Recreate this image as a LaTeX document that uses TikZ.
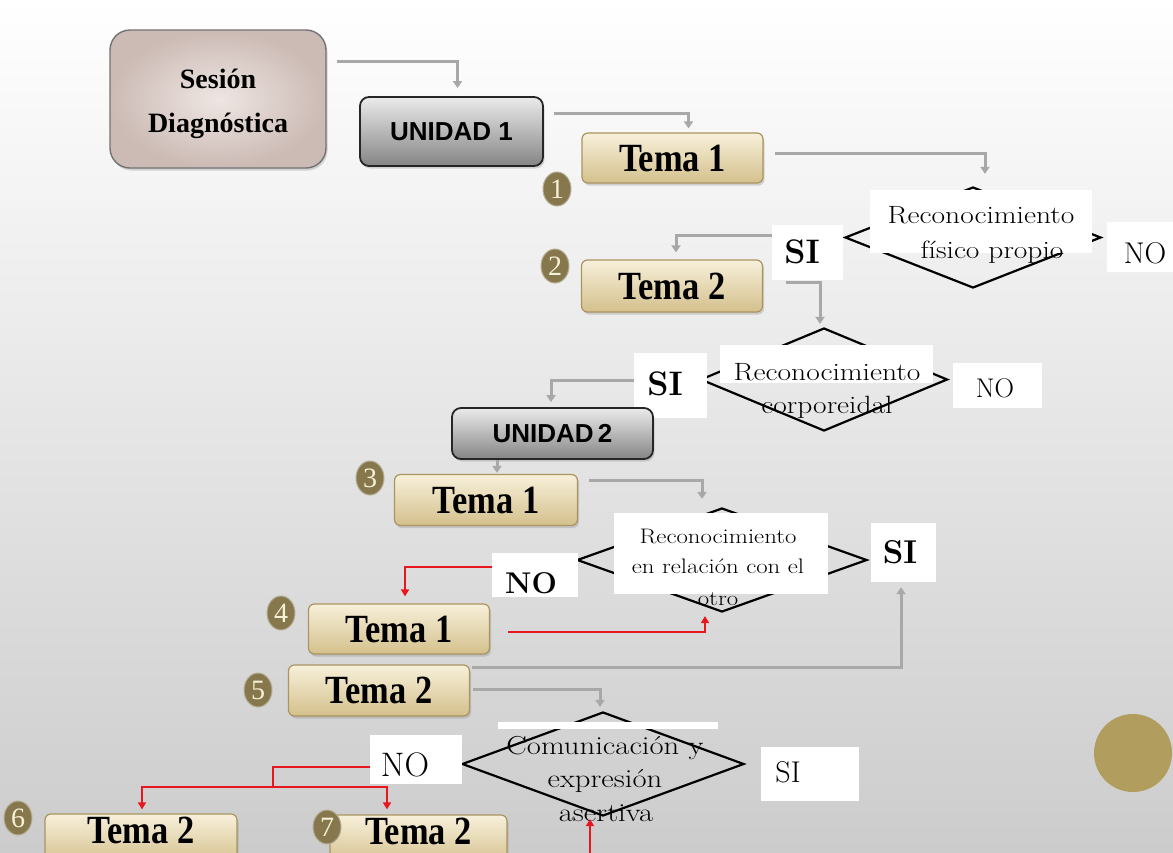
\documentclass[tikz,border=0pt]{standalone}
\usepackage{fontspec}
\newfontfamily\temafont[FakeStretch=0.86]{Liberation Serif}
\newfontfamily\sesfont{Liberation Serif}
\newfontfamily\unifont{Liberation Sans}
\usepackage{graphicx}
\usepackage{tikz}
\usetikzlibrary{calc, positioning, arrows.meta, shapes.geometric, shadows}
\usepackage{xcolor}
\definecolor{arrGray}{RGB}{168, 168, 168}
\definecolor{arrRed}{RGB}{232, 22, 30}
\definecolor{temaLight}{RGB}{247, 240, 218}
\definecolor{temaDark}{RGB}{212, 192, 140}
\definecolor{temaEdge}{RGB}{170, 148, 96}
\definecolor{sesLight}{RGB}{238, 230, 227}
\definecolor{sesDark}{RGB}{204, 186, 180}
\definecolor{badgeFill}{RGB}{134, 120, 76}
\definecolor{badgeTxt}{RGB}{246, 240, 214}
\definecolor{goldDot}{RGB}{177, 157, 94}
\newcommand{\setfs}[1]{\fontsize{#1}{#1}\selectfont}
\newcommand{\wide}[1]{\scalebox{1.18}[1]{#1}}

\begin{document}
\begin{tikzpicture}[x=1pt, y=-1pt,
  sesbox/.style={rounded corners=20pt, draw=black!55, line width=1.4pt,
    inner color=sesLight, outer color=sesDark,
    drop shadow={opacity=0.3, shadow xshift=1.5pt, shadow yshift=-2.5pt}},
  unidad/.style={rounded corners=9pt, draw=black!85, line width=1.8pt,
    top color=black!8, bottom color=black!48, inner sep=0pt,
    font=\unifont\bfseries\setfs{26},
    drop shadow={opacity=0.3, shadow xshift=1.5pt, shadow yshift=-2.5pt}},
  tema/.style={rounded corners=6pt, draw=temaEdge, line width=1.2pt,
    top color=temaLight, bottom color=temaDark, inner sep=0pt,
    minimum width=181pt, minimum height=50pt,
    font=\temafont\bfseries\setfs{40},
    drop shadow={opacity=0.3, shadow xshift=1.5pt, shadow yshift=-2.5pt}},
  badge/.style={ellipse, minimum width=28pt, minimum height=34pt, inner sep=0pt,
    fill=badgeFill, draw=badgeFill!60!white, line width=1pt,
    text=badgeTxt, font=\sesfont\setfs{28}},
  decision/.style={diamond, draw, line width=2.2pt, inner sep=0pt},
  wbox/.style={fill=white, inner sep=0pt},
  dtext/.style={anchor=base, inner sep=0pt},
  garrow/.style={draw=arrGray, line width=3pt, -{Triangle[length=7pt, width=9pt]}},
  rarrow/.style={draw=arrRed, line width=2.6pt, -{Triangle[length=7pt, width=8pt]}}]

  % background
  \shade[top color=white, bottom color=black!20] (0,0) rectangle (1173,852);
  \useasboundingbox (0,0) rectangle (1173,852);

  % start and first unit
  \node[sesbox, minimum width=216pt, minimum height=138pt] (ses) at (218,99) {};
  \node[dtext, font=\sesfont\bfseries\setfs{28}] (sesA) at (218,88) {Sesión};
  \node[dtext, font=\sesfont\bfseries\setfs{28}] (sesB) at (218,132) {Diagnóstica};
  \node[unidad, minimum width=183pt, minimum height=69pt] (un1) at (451.5,131.5) {UNIDAD 1};
  \node[tema] (t1a) at (672.5,158) {Tema 1};
  \node[badge] (b1) at (557,189) {1};

  % decision 1
  \node[decision, minimum width=256pt, minimum height=101pt] (d1) at (973,237.5) {};
  \node[wbox, minimum width=222pt, minimum height=63pt] (d1box) at (981,221.5) {};
  \node[dtext, font=\setfs{25}] (d1a) at (981,223) {\wide{Reconocimiento}};
  \node[dtext, font=\setfs{25}] (d1b) at (992,258) {\wide{físico propio}};
  \node[wbox, minimum width=71pt, minimum height=55pt] (si1box) at (807.5,252.5) {};
  \node[dtext, font=\bfseries\setfs{34}] (si1) at (802,263) {SI};
  \node[wbox, minimum width=66pt, minimum height=50pt] (no1box) at (1140,247) {};
  \node[dtext, font=\setfs{30}] (no1) at (1145,263) {NO};

  \node[tema, minimum height=52pt] (t2a) at (672,286) {Tema 2};
  \node[badge] (b2) at (555,266) {2};

  % decision 2
  \node[decision, minimum width=247pt, minimum height=103pt] (d2) at (824,379.5) {};
  \node[wbox, minimum width=213pt, minimum height=38pt] (d2box) at (826.5,364) {};
  \node[dtext, font=\setfs{25}] (d2a) at (827,380) {\wide{Reconocimiento}};
  \node[dtext, font=\setfs{25}] (d2b) at (827,413) {\wide{corporeidal}};
  \node[wbox, minimum width=73pt, minimum height=65pt] (si2box) at (670.5,385.5) {};
  \node[dtext, font=\bfseries\setfs{34}] (si2) at (665,395) {SI};
  \node[wbox, minimum width=89pt, minimum height=45pt] (no2box) at (997.5,385.5) {};
  \node[dtext, font=\setfs{27}] (no2) at (995,397) {NO};

  % second unit
  \node[unidad, minimum width=201pt, minimum height=51pt] (un2) at (552.5,433.5) {UNIDAD\,2};
  \node[tema, minimum width=183pt, minimum height=51pt] (t1b) at (486,500) {Tema 1};
  \node[badge] (b3) at (370,478) {3};

  % decision 3
  \node[decision, minimum width=290pt, minimum height=104pt] (d3) at (722,560) {};
  \node[wbox, minimum width=214pt, minimum height=81pt] (d3box) at (721,553.5) {};
  \node[dtext, font=\setfs{21}] (d3a) at (718,543) {\wide{Reconocimiento}};
  \node[dtext, font=\setfs{21}] (d3b) at (718,573) {\wide{en relación con el}};
  \node[dtext, font=\setfs{21}] (d3c) at (718,605) {\wide{otro}};
  \node[wbox, minimum width=65pt, minimum height=59pt] (si3box) at (903.5,552.5) {};
  \node[dtext, font=\bfseries\setfs{33}] (si3) at (900,563) {SI};
  \node[wbox, minimum width=86pt, minimum height=44pt] (no3box) at (535,575) {};
  \node[dtext, font=\bfseries\setfs{30}] (no3) at (531,593) {NO};

  \node[tema] (t1c) at (399,629) {Tema 1};
  \node[badge] (b4) at (281,613) {4};
  \node[tema, minimum height=51pt] (t2b) at (379,690.5) {Tema 2};
  \node[badge] (b5) at (258,690) {5};

  % decision 4
  \node[decision, minimum width=282pt, minimum height=104pt] (d4) at (603,764) {};
  \node[wbox, minimum width=220pt, minimum height=7pt] (d4strip) at (608,725.5) {};
  \node[dtext, font=\setfs{26}] (d4a) at (605,754) {\wide{Comunicación y}};
  \node[dtext, font=\setfs{26}] (d4b) at (605,787) {\wide{expresión}};
  \node[dtext, font=\setfs{26}] (d4c) at (606,821) {\wide{asertiva}};
  \node[wbox, minimum width=92pt, minimum height=49pt] (no4box) at (416,759.5) {};
  \node[dtext, font=\setfs{34}] (no4) at (405,776) {NO};
  \node[wbox, minimum width=98pt, minimum height=54pt] (si4box) at (810,774) {};
  \node[dtext, font=\setfs{30}] (si4) at (788,782) {SI};

  \node[tema, minimum width=192pt, text depth=18pt] (t2c) at (141,839) {Tema 2};
  \node[badge] (b6) at (18,818) {6};
  \node[tema, minimum width=177pt, text depth=18pt] (t2d) at (418.5,840) {Tema 2};
  \node[badge] (b7) at (327,827) {7};

  % decoration
  \fill[goldDot] (1133,753) circle (39pt);

  % gray connectors
  \draw[garrow] ([shift={(10,-38)}]ses.east) -| ([shift={(6,-8)}]un1.north);
  \draw[garrow] ([shift={(10,-18.5)}]un1.east) -| ([shift={(16,-4)}]t1a.north);
  \draw[garrow] ([shift={(11,-5)}]t1a.east) -| ([shift={(12,-12)}]d1.north);
  \draw[garrow] ([shift={(0,-17.5)}]si1box.west) -| ([shift={(4,-7)}]t2a.north);
  \draw[garrow] ([shift={(23,-4)}]t2a.east) -| ([shift={(-4,-3)}]d2.north);
  \draw[garrow] ([shift={(0,-5.5)}]si2box.west) -| ([shift={(-1.5,-5)}]un2.north);
  \draw[garrow] ([shift={(-55.5,0)}]un2.south) -- ([shift={(11,-1)}]t1b.north);
  \draw[garrow] ([shift={(11,-20)}]t1b.east) -| ([shift={(-20,-8)}]d3.north);
  \draw[garrow] ([shift={(2,-23.5)}]t2b.east) -| ([shift={(-2.5,5)}]si3box.south);
  \draw[garrow] ([shift={(3,-1.5)}]t2b.east) -| ([shift={(-3,-4)}]d4.north);

  % red connectors
  \draw[rarrow] ([shift={(0,-8)}]no3box.west) -| ([shift={(6,-7)}]t1c.north);
  \draw[rarrow] ([shift={(18,3)}]t1c.east) -| ([shift={(-17,3)}]d3.south);
  \coordinate (split) at (273,787);
  \draw[draw=arrRed, line width=2.6pt] ([shift={(0,7.5)}]no4box.west) -| (split);
  \draw[rarrow] (split) -| ([shift={(1,-4)}]t2c.north);
  \draw[rarrow] (split) -| ([shift={(-31.5,-5)}]t2d.north);
  \coordinate (botR) at (590,862);
  \draw[rarrow] (botR) -- ([shift={(-13,2)}]d4.south);
\end{tikzpicture}
\end{document}
